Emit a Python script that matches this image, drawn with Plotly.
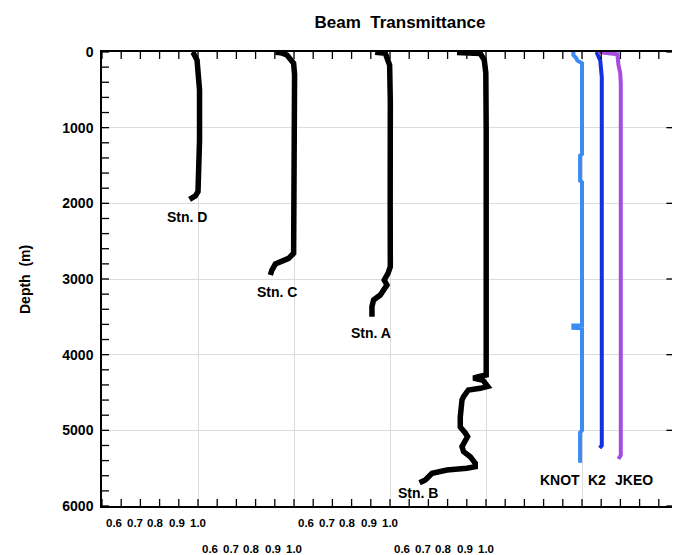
import numpy as np
import plotly.graph_objects as go

# Beam transmittance profiles (value, depth in m)
stn_d_val = [0.969, 0.975, 0.995, 1.003, 1.008, 1.008, 1.006, 1.003, 1.000, 0.986, 0.956]
stn_d_dep = [0, 10, 106, 300, 502, 1163, 1692, 1780, 1846, 1903, 1947]

stn_c_val = [0.903, 0.930, 0.9635, 0.998, 1.003, 1.003, 0.998, 0.972, 0.9375, 0.903, 0.885, 0.877]
stn_c_dep = [4, 10, 40, 150, 300, 2573, 2660, 2727, 2771, 2802, 2881, 2947]

stn_a_val = [0.923, 0.950, 0.9755, 0.998, 1.0016, 1.001, 1.0016, 0.9896, 0.970, 0.984, 0.9495, 0.9146, 0.906, 0.906]
stn_a_dep = [3, 8, 17, 172, 640, 2000, 2837, 2925, 3013, 3079, 3211, 3277, 3365, 3498]

stn_b_val = [0.849, 0.930, 0.970, 0.991, 0.999, 1.001, 1.001, 0.960, 0.934, 0.985, 1.009, 0.970,
             0.908, 0.883, 0.875, 0.866, 0.866, 0.892, 0.904, 0.875, 0.883, 0.918, 0.944,
             0.944, 0.900, 0.797, 0.745, 0.719, 0.701, 0.684, 0.654]
stn_b_dep = [5, 12, 20, 106, 278, 1000, 4269, 4290, 4310, 4340, 4420, 4445,
             4467, 4555, 4599, 4824, 4956, 5035, 5084, 5216, 5282, 5348, 5435,
             5480, 5501, 5524, 5546, 5568, 5613, 5656, 5692]

knot_val = [0.955, 0.955, 0.970, 0.975, 1.000, 1.000, 0.990, 0.990, 1.000, 1.000, 0.955, 0.955,
            1.000, 1.000, 0.990, 0.990]
knot_dep = [0, 40, 80, 110, 150, 1350, 1370, 1700, 1720, 3610, 3615, 3645, 3650, 5000, 5030, 5430]

k2_val = [0.975, 0.978, 0.985, 0.995, 1.003, 1.003, 0.992]
k2_dep = [0, 20, 60, 110, 330, 5200, 5233]

jkeo_val = [0.885, 0.950, 0.984, 0.990, 0.999, 1.002, 1.002, 0.990]
jkeo_dep = [0, 15, 30, 172, 280, 410, 5330, 5379]

# Horizontal offsets that separate the profiles along the shared axis
profiles = [
    ("Stn. D", stn_d_val, stn_d_dep, 0.0, "black", 5.5),
    ("Stn. C", stn_c_val, stn_c_dep, 0.5, "black", 5.5),
    ("Stn. A", stn_a_val, stn_a_dep, 1.0, "black", 5.5),
    ("Stn. B", stn_b_val, stn_b_dep, 1.5, "black", 5.5),
    ("KNOT", knot_val, knot_dep, 2.0, "#3a8cf5", 4),
    ("K2", k2_val, k2_dep, 2.1, "#1530e0", 4),
    ("JKEO", jkeo_val, jkeo_dep, 2.2, "#a64de0", 4),
]

# Station labels (x on the shared axis, depth)
label_text = ["Stn. D", "Stn. C", "Stn. A", "Stn. B", "KNOT", "K2", "JKEO"]
label_x = [0.944, 1.413, 1.903, 2.147, 2.887, 3.080, 3.273]
label_y = [2180, 3172, 3714, 5828, 5656, 5656, 5656]

# Bottom scale labels: one set per station, alternating in two rows
scale_values = [0.6, 0.7, 0.8, 0.9, 1.0]
scale_offsets = [0.0, 0.5, 1.0, 1.5]
scale_rows = [0, 1, 0, 1]

FONT = "Liberation Sans, Arial, Helvetica, sans-serif"

# Plot area in pixels
W, H = 673, 555
L, R, T, B = 102, 1, 52, 49
PW, PH = W - L - R, H - T - B
XR = [0.5, 0.5 + PW / 192]
YR = [6000, 0]

# Tick positions along the frame
x_ticks = np.round(np.arange(XR[0], XR[1], 0.1), 3)
y_minor = np.arange(0, 6001, 200)
y_major = np.arange(0, 6001, 1000)

fig = go.Figure()
for name, vals, deps, off, color, w in profiles:
    fig.add_trace(go.Scatter(
        x=[v + off for v in vals], y=deps, mode="lines", name=name,
        line=dict(color=color, width=w), showlegend=False,
    ))

# Inward frame ticks: line markers centred on the frame, half clipped by the plot area
def frame_ticks(xs, ys, symbol, size):
    fig.add_trace(go.Scatter(
        x=xs, y=ys, mode="markers", cliponaxis=True, showlegend=False, hoverinfo="skip",
        marker=dict(symbol=symbol, size=size, color="black",
                    line=dict(color="black", width=1.3)),
    ))

frame_ticks(x_ticks, [YR[0]] * len(x_ticks), "line-ns", 10)   # bottom
frame_ticks(x_ticks, [YR[1]] * len(x_ticks), "line-ns", 10)   # top
frame_ticks([XR[0]] * len(y_minor), y_minor, "line-ew", 10)   # left
frame_ticks([XR[1]] * len(y_major), y_major, "line-ew", 8)    # right

# empty trace so the overlaid grid axes are drawn
fig.add_trace(go.Scatter(x=[None], y=[None], xaxis="x2", yaxis="y2",
                         showlegend=False, hoverinfo="skip"))

annotations = []
for t, x, y in zip(label_text, label_x, label_y):
    annotations.append(dict(x=x, y=y, xref="x", yref="y", text=t, showarrow=False,
                            font=dict(family=FONT, size=14, color="black", weight="bold"),
                            xanchor="center", yanchor="middle"))

for off, row in zip(scale_offsets, scale_rows):
    for v in scale_values:
        annotations.append(dict(
            x=off + 1.0 - (1.0 - v) * 1.1, y=0, xref="x", yref="paper",
            text=f"{v:.1f}", showarrow=False,
            font=dict(family=FONT, size=11.5, color="black", weight="bold"),
            xanchor="center", yanchor="middle", yshift=-17 - 26 * row))

annotations.append(dict(x=(25 - L) / PW, y=(H - B - 280) / PH, xref="paper", yref="paper",
                        text="Depth  (m)", showarrow=False, textangle=-90,
                        font=dict(family=FONT, size=14, color="black", weight="bold"),
                        xanchor="center", yanchor="middle"))

fig.update_layout(
    width=W, height=H,
    margin=dict(l=L, r=R, t=T, b=B),
    paper_bgcolor="white", plot_bgcolor="white",
    font=dict(family=FONT, color="black"),
    title=dict(text="Beam  Transmittance", x=400 / W, xref="container",
               y=1 - 22 / H, yref="container", xanchor="center", yanchor="middle",
               font=dict(family=FONT, size=17, color="black", weight="bold")),
    annotations=annotations,
    # main axes: frame lines and depth labels
    xaxis=dict(range=XR, showline=True, linecolor="black", linewidth=1.5, mirror=True,
               ticks="", showticklabels=False, showgrid=False, zeroline=False),
    yaxis=dict(range=YR, showline=True, linecolor="black", linewidth=1.5,
               ticks="", tick0=0, dtick=1000, showgrid=False, zeroline=False,
               tickfont=dict(family=FONT, size=14, color="black", weight="bold"),
               ticklabelstandoff=4),
    # overlaid axes carrying the grid
    xaxis2=dict(overlaying="x", side="bottom", anchor="y2", range=XR, ticks="",
                tick0=0.5, dtick=0.5, showticklabels=False, showline=False,
                showgrid=True, gridcolor="#dcdcdc", gridwidth=1, zeroline=False),
    yaxis2=dict(overlaying="y", side="right", anchor="x2", range=YR, ticks="",
                tick0=0, dtick=1000, showticklabels=False, showline=False,
                showgrid=True, gridcolor="#dcdcdc", gridwidth=1, zeroline=False),
)

fig.write_html("out.html")
